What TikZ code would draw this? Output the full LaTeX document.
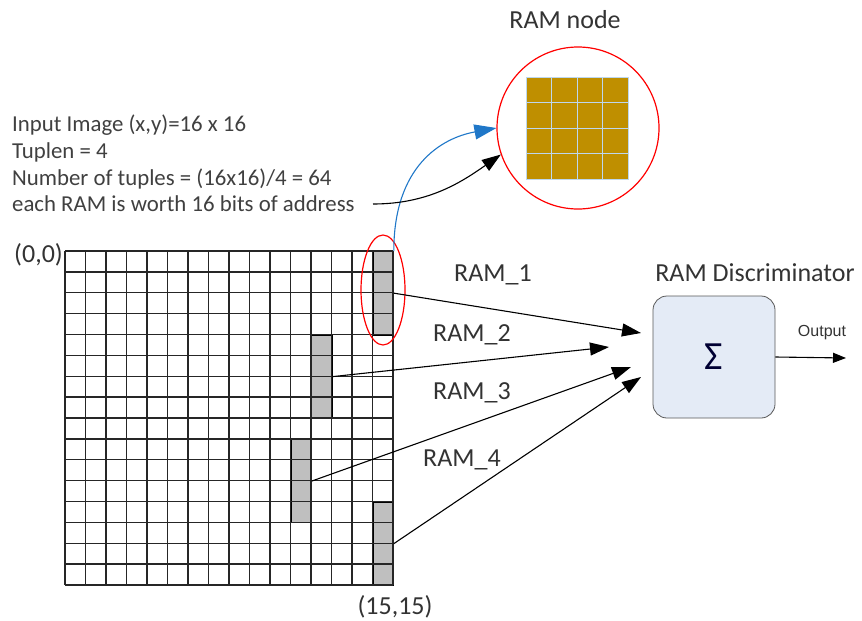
\documentclass[tikz,border=0pt]{standalone}
\usepackage{fontspec}
\setmainfont{Carlito}
\newfontfamily\outfont{Liberation Sans}
\usetikzlibrary{arrows.meta, shapes.geometric, positioning}
\definecolor{ramgold}{HTML}{BF8F00}
\definecolor{ramline}{HTML}{BDD7EE}
\definecolor{discfill}{HTML}{E4EBF6}
\definecolor{arcblue}{HTML}{1F77C8}
\tikzset{
  bigtext/.style={font=\fontsize{26}{30}\selectfont, text=black!80}
}
\tikzset{
  infotext/.style={font=\fontsize{22.8}{26.7}\selectfont, text=black!75}
}

\begin{document}
\begin{tikzpicture}[x=1pt, y=-1pt, >={Triangle[length=19pt,width=13pt]},
    block/.style={draw, thick, fill=gray!50, minimum width=20.5pt, minimum height=83.5pt, inner sep=0pt},
    gridline/.style={line width=1.4pt, black!85},
    wire/.style={line width=1.1pt, ->}]
  \useasboundingbox (0,0) rectangle (862,621);
  % tuples
  \node[block, anchor=north west] (ram1) at (372.5,251) {};
  \node[block, anchor=north west] (ram2) at (311,334.5) {};
  \node[block, anchor=north west] (ram3) at (290.5,438.9) {};
  \node[block, anchor=north west] (ram4) at (372.5,501.5) {};
  % 16 x 16 input image
  \foreach \i in {0,...,16} {
    \draw[gridline] (65+\i*20.5,251) -- (65+\i*20.5,585);
    \draw[gridline] (65,251+\i*20.875) -- (393,251+\i*20.875);
  }
  \node[bigtext, anchor=east, inner sep=1pt] (origin) at (64,255) {(0,0)};
  \node[bigtext] (corner) at (395,607) {(15,15)};
  \node[draw=red, line width=1.2pt, ellipse, minimum width=44pt, minimum height=110pt] (sel) at (383,290) {};

  \node[infotext, anchor=north west, align=left, inner sep=0pt] (info) at (12,115) {Input Image (x,y)=16 x 16\\ Tuplen = 4\\ Number of tuples = (16x16)/4 = 64\\ each RAM is worth 16 bits of address};

  % RAM node
  \node[draw=red, line width=1.2pt, circle, minimum size=162pt] (ramnode) at (578,128) {};
  \node[bigtext] (ramlbl) at (565,20) {RAM node};
  \foreach \r in {0,...,3}
    \foreach \c in {0,...,3}
      \draw[ramline, line width=1pt, fill=ramgold] (526+\c*25.5,77+\r*25.5) rectangle ++(25.5,25.5);

  \coordinate (src) at (373,204);
  \draw[wire, arcblue, >={Triangle[length=22pt,width=15pt]}] (ram1.north east) .. controls +(0,-85) and +(-55,10) .. (ramnode.west);
  \draw[wire] (src) .. controls +(55,0) and +(-40,28) .. (ramnode.199);

  % discriminator
  \node[draw=black!65, thick, fill=discfill, rounded corners=14pt, minimum width=122pt, minimum height=122pt, font=\fontsize{40}{40}\selectfont, text=black!80!blue] (disc) at (714,357) {Σ};
  \node[bigtext] (disclbl) at (755,273) {RAM Discriminator};
  \coordinate (out) at (846,358);
  \draw[wire, >={Triangle[length=13pt,width=10pt]}] (disc.east) -- (out);
  \node[font=\outfont\fontsize{16}{16}\selectfont, text=black!80] (outlbl) at (822,333) {Output};

  \coordinate (in1) at (641,333);
  \coordinate (in2) at (609,347);
  \coordinate (in3) at (631,367);
  \coordinate (in4) at (641,377);
  \draw[wire] (ram1.east) -- (in1);
  \draw[wire] (ram2.east) -- (in2);
  \draw[wire] (ram3.east) -- (in3);
  \draw[wire] (ram4.east) -- (in4);
  \node[bigtext] (lbl1) at (493,275) {RAM\_1};
  \node[bigtext] (lbl2) at (472,335) {RAM\_2};
  \node[bigtext] (lbl3) at (472,393) {RAM\_3};
  \node[bigtext] (lbl4) at (462,460) {RAM\_4};
\end{tikzpicture}
\end{document}
